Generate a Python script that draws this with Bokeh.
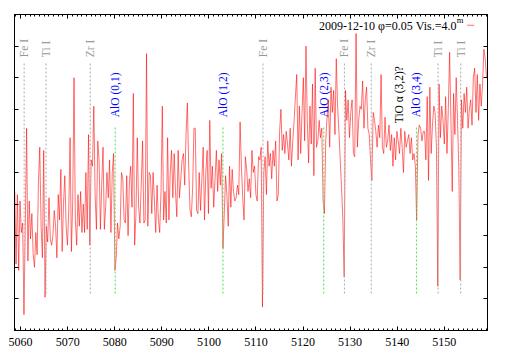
import numpy as np
from bokeh.plotting import figure
from bokeh.models import Range1d, LinearAxis, SingleIntervalTicker, FixedTicker
from bokeh.core.properties import value
from bokeh.embed import file_html
from bokeh.resources import INLINE

# ---- data ----
wl_start = 5058.75
wl_step = 0.28
flux = [
    0.44, 0.21, 0.43, 0.19, 0.41, 0.31, 0.34, 0.05, 0.33, 0.64,
    0.22, 0.41, 0.29, 0.37, 0.24, 0.20, 0.31, 0.24, 0.47, 0.58,
    0.33, 0.23, 0.57, 0.105, 0.33, 0.28, 0.42, 0.29, 0.27, 0.30,
    0.38, 0.33, 0.23, 0.43, 0.35, 0.51, 0.25, 0.40, 0.49, 0.33,
    0.27, 0.38, 0.61, 0.25, 0.41, 0.80, 0.35, 0.27, 0.43, 0.33,
    0.44, 0.31, 0.40, 0.31, 0.50, 0.32, 0.62, 0.27, 0.54, 0.52,
    0.71, 0.43, 0.32, 0.60, 0.54, 0.32, 0.46, 0.58, 0.32, 0.39,
    0.50, 0.42, 0.54,
    0.31, 0.50, 0.56, 0.19, 0.23, 0.34, 0.29,
    0.33, 0.50, 0.48, 0.35, 0.34, 0.49, 0.30, 0.47, 0.52, 0.39,
    0.75, 0.27, 0.37, 0.61, 0.39, 0.34, 0.46, 0.60, 0.34, 0.35,
    0.876, 0.33, 0.50, 0.49, 0.37, 0.50, 0.41, 0.31, 0.46, 0.35,
    0.31, 0.44, 0.71, 0.35, 0.44, 0.34, 0.61, 0.35, 0.50, 0.57,
    0.42, 0.56, 0.44, 0.36, 0.57, 0.42, 0.48, 0.54, 0.56, 0.46,
    0.62, 0.72, 0.52, 0.38, 0.36, 0.45, 0.64, 0.64, 0.38, 0.37,
    0.50, 0.38, 0.48, 0.58,
    0.35, 0.50, 0.57, 0.37, 0.665, 0.45,
    0.52, 0.39, 0.48, 0.57, 0.44, 0.54, 0.46, 0.56, 0.26, 0.37,
    0.49, 0.43, 0.33, 0.52, 0.39, 0.51, 0.44, 0.41, 0.42, 0.46,
    0.43, 0.66, 0.52, 0.42, 0.35, 0.55, 0.51, 0.44, 0.48, 0.42,
    0.57, 0.50, 0.52, 0.43, 0.41, 0.55, 0.54, 0.58, 0.074, 0.50,
    0.55, 0.43, 0.60, 0.52, 0.56, 0.48, 0.57, 0.52, 0.60, 0.41,
    0.43, 0.63, 0.70, 0.57, 0.62, 0.56, 0.63, 0.59, 0.54, 0.64,
    0.52, 0.60, 0.665, 0.74, 0.81,
    0.54, 0.71, 0.56, 0.69, 0.80,
    0.60, 0.90, 0.665, 0.53, 0.71, 0.59, 0.78, 0.49, 0.83, 0.58,
    0.60, 0.665, 0.61, 0.64, 0.41, 0.37, 0.60, 0.675, 0.73, 0.58,
    0.77, 0.69, 0.76, 0.62, 0.86, 0.71, 0.63, 0.54, 0.45, 0.35,
    0.169, 0.76, 0.665, 0.73, 0.61, 0.69, 0.73, 0.56, 0.55, 0.94,
    0.58, 0.665, 0.71, 0.70, 0.79, 0.64, 0.73, 0.77, 0.64, 0.62,
    0.54, 0.475, 0.69, 0.665, 0.63, 0.58, 0.65, 0.61, 0.81, 0.58,
    0.56, 0.675, 0.58, 0.60, 0.65, 0.57, 0.62,
    0.52, 0.61, 0.54,
    0.63, 0.60, 0.56, 0.64, 0.58, 0.50, 0.63, 0.58, 0.60, 0.62,
    0.56, 0.61, 0.54, 0.56, 0.52, 0.35, 0.62, 0.65, 0.64, 0.60,
    0.63, 0.63, 0.54, 0.74, 0.475, 0.77, 0.56, 0.65, 0.71, 0.69,
    0.58, 0.14, 0.78, 0.61, 0.71, 0.665, 0.59, 0.74, 0.56, 0.70,
    0.88, 0.665, 0.44, 0.75, 0.62, 0.80, 0.665, 0.51, 0.16, 0.73,
    0.64, 0.75, 0.69, 0.77, 0.64, 0.70, 0.73, 0.65, 0.80, 0.83,
    0.69, 0.81, 0.665, 0.78, 0.71, 0.78, 0.89, 0.86, 0.80,
]
wavelength = [wl_start + wl_step * i for i in range(len(flux))]

atomic_wl = [5060.75, 5065.4, 5074.8, 5111.5, 5128.8, 5134.5, 5148.7, 5153.5]
atomic_labels = ["Fe I", "Ti I", "Zr I", "Fe I", "Fe I", "Zr I", "Ti I", "Ti I"]
alo_wl = [5080.1, 5103.0, 5124.4, 5144.1]
alo_labels = ["AlO (0,1)", "AlO (1,2)", "AlO (2,3)", "AlO (3,4)"]
tio_wl = [5140.3]
tio_labels = ["TiO \u03b1 (3,2)?"]
legend_label = "2009-12-10 \u03c6=0.05 Vis.=4.0"
legend_sup = "m"

x_min, x_max = 5058.7, 5159.2
y_min, y_max = 0.0, 1.0
y_ticks = [0.0, 0.1, 0.2, 0.3, 0.4, 0.5, 0.6, 0.7, 0.8, 0.9, 1.0]

# ---- layout / style ----
line_bottom = 0.117
atomic_top = 0.846
alo_top = 0.646
atomic_label_y = 0.865
alo_label_y = 0.675
tio_label_y = 0.656
legend_x = 5152.6
legend_y = 0.963
legend_line_x0, legend_line_x1 = 5154.85, 5156.4

SERIF = "Liberation Serif"

p = figure(width=509, height=356,
           x_range=Range1d(x_min, x_max), y_range=Range1d(y_min, y_max),
           output_backend="svg", toolbar_location=None,
           min_border_left=14, min_border_right=22,
           min_border_top=14, min_border_bottom=26)
p.grid.visible = False
p.outline_line_color = "black"
p.outline_line_width = 1
p.background_fill_color = "white"
p.border_fill_color = "white"

# spectrum
p.line(wavelength, flux, line_color="#ff0000", line_width=0.8, line_alpha=0.7)

# identification lines
n_a = len(atomic_wl)
p.segment(x0=atomic_wl, y0=[line_bottom] * n_a, x1=atomic_wl, y1=[atomic_top] * n_a,
          line_color="#aaaaaa", line_width=1, line_dash="2 2")
n_b = len(alo_wl)
p.segment(x0=alo_wl, y0=[line_bottom] * n_b, x1=alo_wl, y1=[alo_top] * n_b,
          line_color="#55dd55", line_width=1, line_dash="2 2")

# labels
p.text(x=atomic_wl, y=[atomic_label_y] * n_a, text=atomic_labels, angle=np.pi / 2,
       text_align="left", text_baseline="middle",
       text_font=value(SERIF), text_font_size=value("11.5px"), text_color="#999999")
p.text(x=alo_wl, y=[alo_label_y] * n_b, text=alo_labels, angle=np.pi / 2,
       text_align="left", text_baseline="middle",
       text_font=value(SERIF), text_font_size=value("11.5px"), text_color="#0000ff")
p.text(x=tio_wl, y=[tio_label_y], text=tio_labels, angle=np.pi / 2,
       text_align="left", text_baseline="middle",
       text_font=value(SERIF), text_font_size=value("11.5px"), text_color="black")

# legend (gnuplot style: text then sample)
p.text(x=[legend_x], y=[legend_y], text=[legend_label], text_align="right",
       text_baseline="middle", text_font=value(SERIF), text_font_size=value("12px"),
       text_color="black")
p.text(x=[legend_x + 0.05], y=[legend_y + 0.019], text=[legend_sup], text_align="left",
       text_baseline="middle", text_font=value(SERIF), text_font_size=value("8.5px"),
       text_color="black")
p.segment(x0=[legend_line_x0], y0=[legend_y + 0.003], x1=[legend_line_x1], y1=[legend_y + 0.003],
          line_color="#ff0000", line_width=0.8, line_alpha=0.7)

# axes
def style_axis(ax, labels=True):
    ax.major_tick_in = 4
    ax.major_tick_out = 0
    ax.minor_tick_in = 2
    ax.minor_tick_out = 0
    ax.axis_line_color = "black"
    ax.major_tick_line_color = "black"
    ax.minor_tick_line_color = "black"
    if labels:
        ax.major_label_text_font = SERIF
        ax.major_label_text_font_size = "12px"
        ax.major_label_text_color = "black"
        ax.major_label_standoff = 7
    else:
        ax.major_label_text_font_size = "1px"
        ax.major_label_text_color = None
        ax.major_label_standoff = 0

xa = p.xaxis[0]
xa.ticker = SingleIntervalTicker(interval=10, num_minor_ticks=10)
style_axis(xa, True)

ya = p.yaxis[0]
ya.ticker = FixedTicker(ticks=y_ticks)
style_axis(ya, False)
ya.minor_tick_line_color = None

top = LinearAxis(ticker=SingleIntervalTicker(interval=10, num_minor_ticks=10))
style_axis(top, False)
p.add_layout(top, "above")

right = LinearAxis(ticker=FixedTicker(ticks=y_ticks))
style_axis(right, False)
right.minor_tick_line_color = None
p.add_layout(right, "right")

open("out.html", "w").write(file_html(p, INLINE))
